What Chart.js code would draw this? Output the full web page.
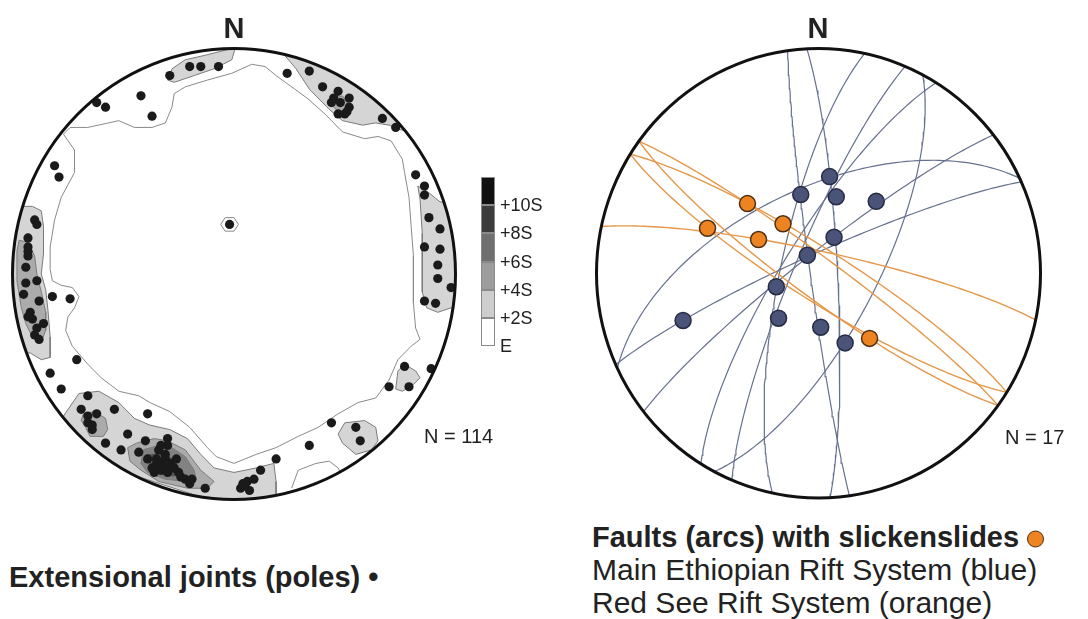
<!DOCTYPE html>
<html>
<head>
<meta charset="utf-8">
<script src="https://cdn.jsdelivr.net/npm/chart.js@4.4.1/dist/chart.umd.min.js"></script>
<style>
  body { margin: 0; background: #fff; width: 1088px; height: 619px; position: relative; overflow: hidden;
         font-family: "Liberation Sans", Arial, sans-serif; color: #222; }
  canvas { position: absolute; top: 0; }
  .t { position: absolute; white-space: nowrap; line-height: 1; }
  .c { transform: translate(-50%, -50%); }
  .m { transform: translateY(-50%); }
  .sw { position: absolute; left: 481px; width: 14px; box-sizing: border-box; }
</style>
</head>
<body>
<canvas id="left" width="544" height="520" style="left:0;width:544px;height:520px"></canvas>
<canvas id="right" width="544" height="520" style="left:544px;width:544px;height:520px"></canvas>

<div class="t c" style="left:234px;top:28px;font-size:29px;font-weight:bold">N</div>
<div class="t c" style="left:818px;top:28px;font-size:29px;font-weight:bold">N</div>
<div class="t m" style="left:424px;top:436px;font-size:20px">N = 114</div>
<div class="t m" style="left:1005px;top:437px;font-size:20px">N = 17</div>
<div id="scale"></div>

<div class="t m" style="left:9px;top:577px;font-size:29px;font-weight:bold">Extensional joints (poles) &bull;</div>
<div class="t m" style="left:592px;top:537px;font-size:29px;font-weight:bold">Faults (arcs) with slickenslides
  <span style="display:inline-block;width:15px;height:15px;border-radius:50%;background:#ee8421;border:1.5px solid #4d3015;vertical-align:middle"></span></div>
<div class="t m" style="left:592px;top:570px;font-size:30px">Main Ethiopian Rift System (blue)</div>
<div class="t m" style="left:592px;top:603px;font-size:30px">Red See Rift System (orange)</div>

<script>
// ---------- left net: poles to extensional joints (equal-area net, x = east, y = north) ----------
const poleX = [-0.29,-0.20,-0.15,-0.07,-0.42,-0.37,-0.62,-0.58,-0.81,-0.79,-0.90,-0.89,-0.93,-0.93,-0.93,-0.94,-0.02,
  -0.94,-0.89,-0.95,-0.88,-0.82,-0.74,-0.92,-0.91,-0.86,-0.89,-0.88,-0.71,-0.83,-0.78,-0.66,-0.69,-0.62,-0.54,-0.39,
  -0.66,-0.64,-0.48,-0.58,-0.51,-0.40,-0.43,-0.30,-0.30,-0.39,-0.35,-0.31,-0.26,-0.37,-0.33,-0.30,-0.27,-0.24,-0.19,
  -0.20,-0.13,-0.35,-0.29,0.04,0.05,0.07,0.09,0.12,0.19,0.34,0.44,0.55,0.57,0.70,0.79,0.77,0.89,0.86,0.91,0.98,0.92,
  0.92,0.93,0.86,0.93,0.88,0.86,0.86,0.82,0.73,0.67,0.50,0.47,0.52,0.52,0.48,0.44,0.47,0.40,0.34,0.24,0.51,0.45,
  -0.93,-0.90,-0.93,-0.34,-0.32,-0.36,-0.28,-0.31,-0.25,-0.33,-0.22,0.06,0.03,-0.66,-0.64];
const poleY = [0.88,0.92,0.92,0.92,0.79,0.70,0.76,0.74,0.48,0.43,0.24,0.22,0.16,0.10,0.08,0.03,0.22,
  -0.04,-0.03,-0.09,-0.12,-0.10,-0.11,-0.17,-0.20,-0.22,-0.24,-0.29,-0.38,-0.44,-0.51,-0.54,-0.60,-0.62,-0.60,-0.62,
  -0.66,-0.69,-0.71,-0.75,-0.78,-0.74,-0.79,-0.73,-0.76,-0.82,-0.84,-0.80,-0.82,-0.86,-0.87,-0.88,-0.86,-0.90,-0.91,
  -0.93,-0.95,-0.82,-0.84,-0.93,-0.94,-0.96,-0.91,-0.87,-0.82,-0.76,-0.66,-0.68,-0.74,-0.50,-0.50,-0.41,-0.42,-0.12,-0.13,-0.06,-0.02,
  0.04,0.11,0.12,0.20,0.25,0.35,0.39,0.44,0.65,0.69,0.71,0.71,0.74,0.78,0.76,0.76,0.81,0.83,0.90,0.89,0.72,0.78,
  -0.19,-0.27,0.12,-0.78,-0.84,-0.88,-0.86,-0.82,-0.88,-0.76,-0.91,-0.92,-0.95,-0.63,-0.67];

// density contours (net coordinates); level E is drawn as a line only
const contourE = [[-0.77,0.62],[-0.74,0.65],[-0.66,0.65],[-0.52,0.68],[-0.45,0.65],[-0.37,0.65],[-0.31,0.67],[-0.28,0.74],
  [-0.27,0.80],[-0.22,0.83],[-0.12,0.86],[-0.01,0.89],[0.08,0.93],[0.14,0.92],[0.19,0.88],[0.26,0.83],[0.33,0.78],
  [0.41,0.71],[0.49,0.63],[0.59,0.60],[0.65,0.61],[0.71,0.59],[0.74,0.54],[0.76,0.51],[0.77,0.45],[0.79,0.34],
  [0.80,0.21],[0.81,0.08],[0.81,-0.01],[0.81,-0.13],[0.82,-0.24],[0.84,-0.29],[0.80,-0.32],[0.74,-0.38],[0.70,-0.47],
  [0.64,-0.55],[0.56,-0.57],[0.47,-0.62],[0.38,-0.68],[0.29,-0.72],[0.19,-0.77],[0.10,-0.80],[0.00,-0.84],[-0.08,-0.81],
  [-0.12,-0.77],[-0.20,-0.68],[-0.29,-0.61],[-0.38,-0.57],[-0.43,-0.54],[-0.52,-0.52],[-0.60,-0.46],[-0.66,-0.40],
  [-0.73,-0.32],[-0.76,-0.25],[-0.75,-0.19],[-0.72,-0.15],[-0.70,-0.10],[-0.73,-0.06],[-0.78,-0.05],[-0.82,-0.03],
  [-0.83,0.02],[-0.83,0.12],[-0.81,0.24],[-0.78,0.34],[-0.72,0.45],[-0.72,0.55]];
const contourECentre = [[-0.06,0.22],[-0.04,0.25],[0.00,0.25],[0.02,0.22],[0.00,0.19],[-0.04,0.19]];
const contourELow = [[0.26,-0.95],[0.29,-0.87],[0.37,-0.84],[0.43,-0.83],[0.47,-0.86],[0.48,-0.88]];

const contour2S = [
  [[-0.30,0.86],[-0.28,0.91],[-0.22,0.95],[-0.13,0.97],[-0.01,1.00],[0.02,1.05],[-0.01,0.95],[-0.09,0.91],[-0.18,0.88],[-0.27,0.85]],
  [[0.22,0.98],[0.28,0.91],[0.34,0.82],[0.43,0.73],[0.49,0.68],[0.58,0.66],[0.64,0.67],[0.70,0.66],[0.75,0.64],[0.85,0.62],[0.25,1.05]],
  [[0.83,0.39],[0.84,0.33],[0.85,0.18],[0.85,0.03],[0.85,-0.08],[0.87,-0.15],[0.92,-0.17],[0.98,-0.15],[1.1,-0.15],[1.1,0.30],[0.93,0.32],[0.88,0.36]],
  [[0.74,-0.43],[0.77,-0.40],[0.82,-0.43],[0.84,-0.46],[0.81,-0.49],[0.76,-0.52],[0.73,-0.51]],
  [[0.47,-0.71],[0.50,-0.66],[0.59,-0.65],[0.64,-0.68],[0.65,-0.74],[0.62,-0.78],[0.55,-0.80],[0.49,-0.75]],
  [[-0.91,0.30],[-0.87,0.28],[-0.86,0.21],[-0.86,0.09],[-0.87,0.00],[-0.85,-0.07],[-0.84,-0.16],[-0.83,-0.28],[-0.83,-0.37],[-0.87,-0.38],[-0.92,-0.35],[-1.1,-0.35],[-1.1,0.30]],
  [[-0.77,-0.63],[-0.70,-0.53],[-0.61,-0.52],[-0.52,-0.57],[-0.45,-0.64],[-0.38,-0.67],[-0.29,-0.69],[-0.21,-0.73],[-0.15,-0.80],[-0.09,-0.86],[0.00,-0.88],[0.10,-0.86],[0.18,-0.84],[0.19,-0.92],[0.19,-0.98],[0.2,-1.1],[-0.9,-0.75]]
];
const contour4S = [
  [[-0.97,0.15],[-0.93,0.14],[-0.90,0.08],[-0.89,0.00],[-0.87,-0.08],[-0.85,-0.17],[-0.85,-0.25],[-0.87,-0.30],[-0.91,-0.28],[-0.94,-0.22],[-0.96,-0.15],[-0.98,-0.03],[-0.98,0.10]],
  [[-0.68,-0.62],[-0.63,-0.61],[-0.58,-0.64],[-0.57,-0.69],[-0.59,-0.72],[-0.65,-0.72],[-0.67,-0.68],[-0.69,-0.65]],
  [[-0.48,-0.77],[-0.44,-0.75],[-0.36,-0.73],[-0.30,-0.74],[-0.22,-0.78],[-0.15,-0.87],[-0.09,-0.92],[-0.12,-0.95],[-0.21,-0.95],[-0.34,-0.92],[-0.42,-0.87],[-0.47,-0.83]],
  [[0.45,0.78],[0.49,0.79],[0.51,0.76],[0.51,0.73],[0.47,0.72],[0.44,0.75]]
];
const contour6S = [[[-0.41,-0.78],[-0.34,-0.76],[-0.28,-0.77],[-0.22,-0.81],[-0.18,-0.87],[-0.17,-0.91],[-0.22,-0.92],[-0.31,-0.91],[-0.39,-0.88],[-0.42,-0.84]]];
const contour8S = [[[-0.39,-0.80],[-0.33,-0.79],[-0.27,-0.82],[-0.24,-0.87],[-0.27,-0.90],[-0.34,-0.89],[-0.38,-0.86]]];
const contour10S = [[[-0.37,-0.83],[-0.31,-0.81],[-0.27,-0.84],[-0.28,-0.88],[-0.33,-0.88],[-0.37,-0.86]]];

const scaleLabels = ['+10S', '+8S', '+6S', '+4S', '+2S', 'E'];
const scaleColors = ['#111111', '#3c3c3c', '#6f6f6f', '#9c9c9c', '#cdcdcd', '#ffffff'];
const levelFills = {'2S': '#d5d5d5', '4S': '#ababab', '6S': '#828282', '8S': '#555555', '10S': '#222222'};

// ---------- right net: faults (great circles) and slickenside lineations ----------
const meFaultDipDir = [262, 87, 282, 293, 118, 302, 322, 335, 336];
const meFaultDip    = [87, 83, 76, 81, 69, 77, 83, 59, 83];
const rsFaultDipDir = [36, 32, 216, 212, 12];
const rsFaultDip    = [84, 81, 81, 80, 82];
const meStriaX = [0.05, -0.08, 0.08, 0.26, 0.07, -0.05, -0.19, -0.61, -0.18, 0.01, 0.12];
const meStriaY = [0.43, 0.35, 0.34, 0.32, 0.16, 0.08, -0.06, -0.21, -0.20, -0.24, -0.31];
const rsStriaX = [-0.32, -0.16, -0.50, -0.27, 0.23];
const rsStriaY = [0.31, 0.22, 0.20, 0.15, -0.29];

// lower-hemisphere equal-area trace of a plane
function greatCircle(dipDir, dip) {
  const rad = Math.PI / 180;
  const dd = dipDir * rad, d = dip * rad, s = dd - Math.PI / 2;
  const pts = [];
  for (let a = 0; a <= 180; a += 2) {
    const al = a * rad;
    const e = Math.cos(al) * Math.sin(s) + Math.sin(al) * Math.cos(d) * Math.sin(dd);
    const n = Math.cos(al) * Math.cos(s) + Math.sin(al) * Math.cos(d) * Math.cos(dd);
    const z = Math.sin(al) * Math.sin(d);
    const h = Math.hypot(e, n);
    const r = Math.sqrt(Math.max(0, 1 - z));
    pts.push({x: h ? r * e / h : 0, y: h ? r * n / h : 0});
  }
  return pts;
}

const zip = (xs, ys) => xs.map((x, i) => ({x, y: ys[i]}));
const ring = (pts) => pts.concat([pts[0]]).map(p => ({x: p[0], y: p[1]}));

function region(pts, color, order) {
  return {data: ring(pts), showLine: true, fill: 'shape', backgroundColor: color, borderColor: '#7b7b7b',
          borderWidth: 1, pointRadius: 0, order, contour: true};
}
function outline(pts, closed, order) {
  const data = closed ? ring(pts) : pts.map(p => ({x: p[0], y: p[1]}));
  return {data, showLine: true, fill: false, borderColor: '#8a8a8a', borderWidth: 1, pointRadius: 0, order, contour: true};
}

// clips contour fills to the primitive circle and draws the primitive
const netPlugin = {
  id: 'net',
  beforeDatasetsDraw(chart) {
    const {ctx, scales: {x, y}} = chart;
    ctx.save();
    ctx.beginPath();
    ctx.ellipse(x.getPixelForValue(0), y.getPixelForValue(0),
      x.getPixelForValue(1) - x.getPixelForValue(0), y.getPixelForValue(-1) - y.getPixelForValue(0), 0, 0, Math.PI * 2);
    ctx.clip();
    chart.$clipped = true;
  },
  beforeDatasetDraw(chart, args) {
    if (chart.$clipped && !chart.data.datasets[args.index].contour) {
      chart.ctx.restore();
      chart.$clipped = false;
    }
  },
  afterDatasetsDraw(chart) {
    const {ctx, scales: {x, y}} = chart;
    if (chart.$clipped) { ctx.restore(); chart.$clipped = false; }
    ctx.save();
    ctx.beginPath();
    ctx.ellipse(x.getPixelForValue(0), y.getPixelForValue(0),
      x.getPixelForValue(1) - x.getPixelForValue(0), y.getPixelForValue(-1) - y.getPixelForValue(0), 0, 0, Math.PI * 2);
    ctx.lineWidth = 3;
    ctx.strokeStyle = '#111';
    ctx.stroke();
    ctx.restore();
  }
};

function netOptions(pad) {
  return {
    responsive: false, animation: false, events: [],
    layout: {padding: pad},
    scales: {x: {type: 'linear', min: -1, max: 1, display: false}, y: {type: 'linear', min: -1, max: 1, display: false}},
    plugins: {legend: {display: false}, tooltip: {enabled: false}}
  };
}

// left stereonet
const leftSets = [
  outline(contourE, true, 30), outline(contourECentre, true, 30), outline(contourELow, false, 30),
  ...contour2S.map(p => region(p, levelFills['2S'], 25)),
  ...contour4S.map(p => region(p, levelFills['4S'], 24)),
  ...contour6S.map(p => region(p, levelFills['6S'], 23)),
  ...contour8S.map(p => region(p, levelFills['8S'], 22)),
  ...contour10S.map(p => region(p, levelFills['10S'], 21)),
  {data: zip(poleX, poleY), pointRadius: 4.6, pointBackgroundColor: '#1a1a1a', pointBorderWidth: 0, order: 0, clip: false}
];
new Chart(document.getElementById('left'), {
  type: 'scatter',
  data: {datasets: leftSets},
  options: netOptions({left: 12.5, right: 88.5, top: 48.5, bottom: 20.5}),
  plugins: [netPlugin]
});

// right stereonet
const rightSets = [
  ...meFaultDipDir.map((dd, i) => ({data: greatCircle(dd, meFaultDip[i]), showLine: true, borderColor: '#66708f',
      borderWidth: 1.2, pointRadius: 0, order: 6})),
  ...rsFaultDipDir.map((dd, i) => ({data: greatCircle(dd, rsFaultDip[i]), showLine: true, borderColor: '#e5974a',
      borderWidth: 1.4, pointRadius: 0, order: 5})),
  {data: zip(meStriaX, meStriaY), pointRadius: 8, pointBackgroundColor: '#4a5478', pointBorderColor: '#262c44',
   pointBorderWidth: 1.5, order: 1, clip: false},
  {data: zip(rsStriaX, rsStriaY), pointRadius: 8, pointBackgroundColor: '#ee8421', pointBorderColor: '#4d3015',
   pointBorderWidth: 1.5, order: 0, clip: false}
];
new Chart(document.getElementById('right'), {
  type: 'scatter',
  data: {datasets: rightSets},
  options: netOptions({left: 52.5, right: 47.5, top: 48.5, bottom: 22}),
  plugins: [netPlugin]
});

// density scale key
const key = document.getElementById('scale');
const top0 = 177, step = 28.2;
scaleLabels.forEach((lab, i) => {
  const sw = document.createElement('div');
  sw.className = 'sw';
  sw.style.top = (top0 + i * step) + 'px';
  sw.style.height = step + 'px';
  sw.style.background = scaleColors[i];
  sw.style.border = '1px solid #8a8a8a';
  key.appendChild(sw);
  const t = document.createElement('div');
  t.className = 't m';
  t.style.left = '500px';
  t.style.top = (top0 + (i + 1) * step) + 'px';
  t.style.fontSize = '18px';
  t.textContent = lab;
  key.appendChild(t);
});
</script>
</body>
</html>
